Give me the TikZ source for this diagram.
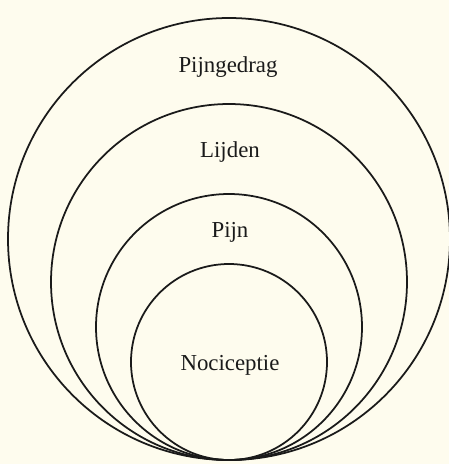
\documentclass[tikz,border=0pt]{standalone}
\usepackage{fontspec}
\setmainfont{Liberation Serif}
\usepackage{tikz}
\definecolor{paper}{HTML}{FEFCEE}
\definecolor{ink}{HTML}{1A1A1A}

\begin{document}
\begin{tikzpicture}[x=0.02cm, y=-0.02cm, font=\fontsize{13}{15}\selectfont,
  ring/.style={draw=ink, line width=1pt},
  tag/.style={anchor=base, text=ink, inner sep=0pt}]
  \fill[paper] (0,0) rectangle (449,464);
  \useasboundingbox (0,0) rectangle (449,464);
  \coordinate (base) at (229,460);
  % nested circles, all touching at the bottom
  \foreach \r in {221,178,133,98}
    \draw[ring] ([yshift=\r*0.02cm]base) circle (\r*0.02cm);
  \node[tag] (gedrag) at (228,72)  {Pijngedrag};
  \node[tag] (lijden) at (230,157) {Lijden};
  \node[tag] (pijn)   at (230,237) {Pijn};
  \node[tag] (noci)   at (230,370) {Nociceptie};
\end{tikzpicture}
\end{document}
